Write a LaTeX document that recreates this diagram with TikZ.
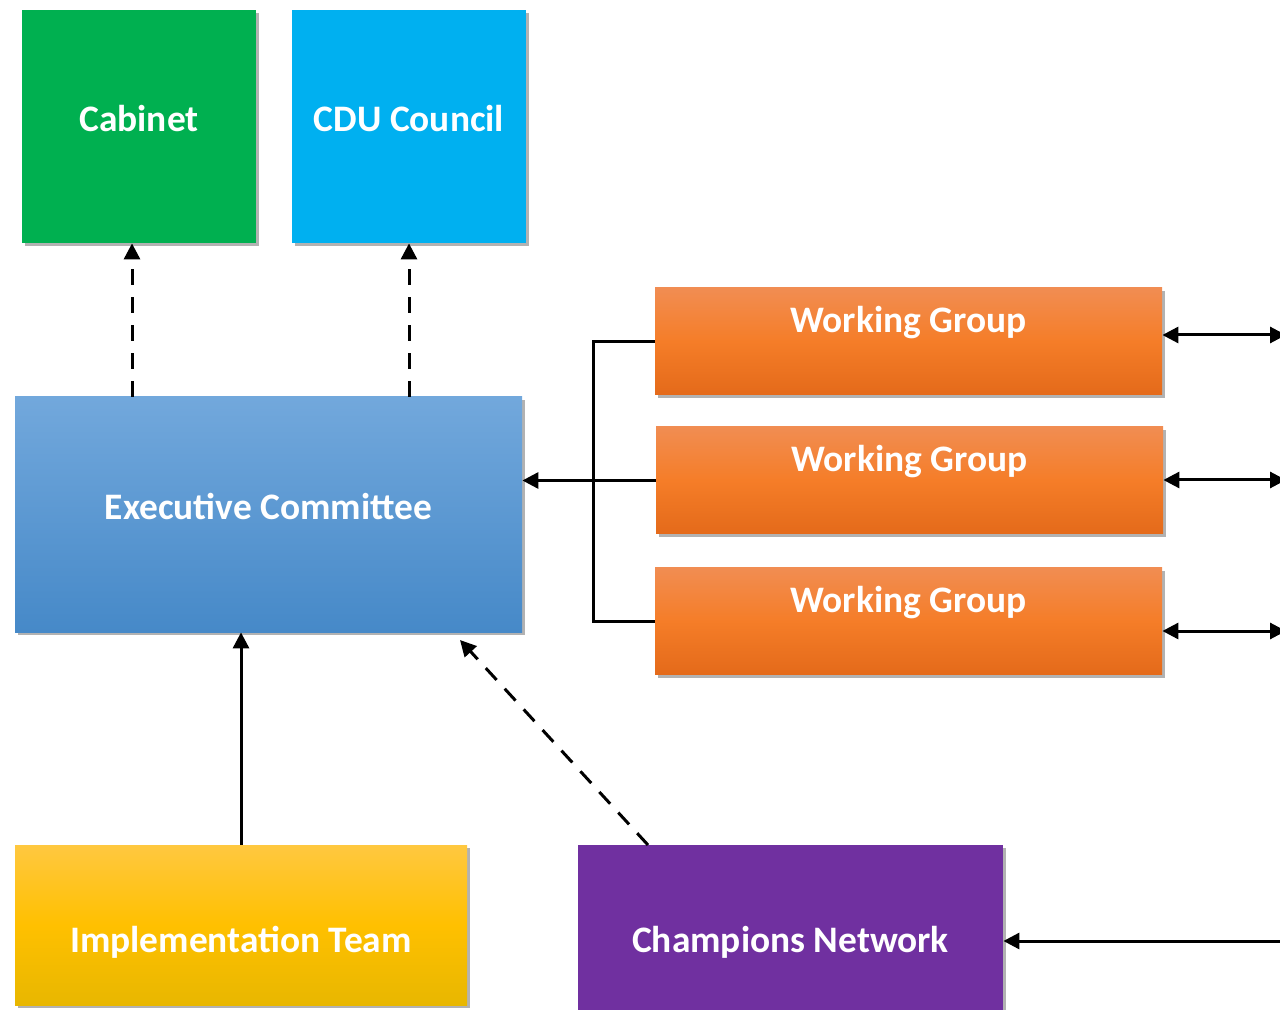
\documentclass[tikz,border=0pt]{standalone}
\usepackage{fontspec}
\setmainfont{Carlito}
\usepackage{xcolor}
\usepackage{tikz}
\usetikzlibrary{arrows.meta,shadows}

\definecolor{cabgreen}{RGB}{0,176,80}
\definecolor{cducyan}{RGB}{0,176,240}
\definecolor{exectop}{RGB}{114,168,220}
\definecolor{execbot}{RGB}{70,137,200}
\definecolor{wgtop}{RGB}{241,141,82}
\definecolor{wgmid}{RGB}{245,125,40}
\definecolor{wgbot}{RGB}{228,106,26}
\definecolor{imptop}{RGB}{255,200,64}
\definecolor{impmid}{RGB}{255,192,0}
\definecolor{impbot}{RGB}{232,183,0}
\definecolor{champ}{RGB}{112,48,160}

\tikzset{
  box/.style={rectangle, text=white, font=\fontsize{18.7}{22}\selectfont\bfseries,
    inner sep=0pt, text height=14pt, text depth=9pt,
    drop shadow={shadow xshift=1.5pt, shadow yshift=-1.5pt, fill=black, opacity=0.3}},
  wgbox/.style={box, minimum width=253.5pt, minimum height=53.5pt,
    top color=wgtop, bottom color=wgbot, middle color=wgmid,
    text height=12pt, text depth=20.5pt},
  link/.style={line width=1.5pt},
  tip/.style={-{Triangle[length=8pt,width=8pt]}},
  dtip/.style={{Triangle[length=8pt,width=8pt]}-{Triangle[length=8pt,width=8pt]}},
  dashlink/.style={link, dash pattern=on 8pt off 6pt}
}

\begin{document}
\begin{tikzpicture}[x=0.5pt, y=-0.5pt]
    \useasboundingbox (0,0) rectangle (1280,1010);
    \clip (0,0) rectangle (1280,1010);

    % top boxes
    \node[box, fill=cabgreen, minimum width=117pt, minimum height=116.5pt] (cabinet) at (139,126.5) {Cabinet};
    \node[box, fill=cducyan, minimum width=117pt, minimum height=116.5pt] (cdu) at (409,126.5) {CDU Council};

    % executive committee
    \node[box, top color=exectop, bottom color=execbot, minimum width=253.5pt, minimum height=117.5pt] (exec) at (268.5,514.5) {Executive Committee};

    % working groups
    \node[wgbox] (wg1) at (908.5,341.5) {Working Group};
    \node[wgbox] (wg2) at (909.5,480.5) {Working Group};
    \node[wgbox] (wg3) at (908.5,621) {Working Group};

    % bottom boxes
    \node[box, top color=imptop, bottom color=impbot, middle color=impmid, minimum width=226pt, minimum height=80pt,
      text height=32pt, text depth=5pt] (impl) at (241,925) {Implementation Team};
    \node[box, fill=champ, minimum width=212.5pt, minimum height=95pt,
      text height=15pt, text depth=3pt] (champ) at (790.5,940) {Champions Network};

    % reporting lines
    \coordinate (cabx) at (132,0);
    \draw[dashlink, tip] (exec.north -| cabx) -- (cabinet.south -| cabx);
    \draw[dashlink, tip] (exec.north -| cdu) -- (cdu.south);
    \draw[link, tip] (impl.north) -- (impl.north |- exec.south);
    \coordinate (cn) at (460,640);
    \draw[dashlink, tip] (648,845) -- (cn);

    % bracket for the working groups
    \coordinate (br) at (593,481);
    \draw[link] (wg1.west) -| (br) |- (wg3.west);
    \draw[link, tip] (wg2.west) -- (exec.east |- wg2.west);

    % links off to the right
    \coordinate (r1) at (1286,335);
    \coordinate (r2) at (1286,480);
    \coordinate (r3) at (1286,631);
    \coordinate (r4) at (1290,941);
    \draw[link, dtip] (wg1.east |- r1) -- (r1);
    \draw[link, dtip] (wg2.east |- r2) -- (r2);
    \draw[link, dtip] (wg3.east |- r3) -- (r3);
    \draw[link, tip] (r4) -- (champ.east |- r4);
\end{tikzpicture}
\end{document}
